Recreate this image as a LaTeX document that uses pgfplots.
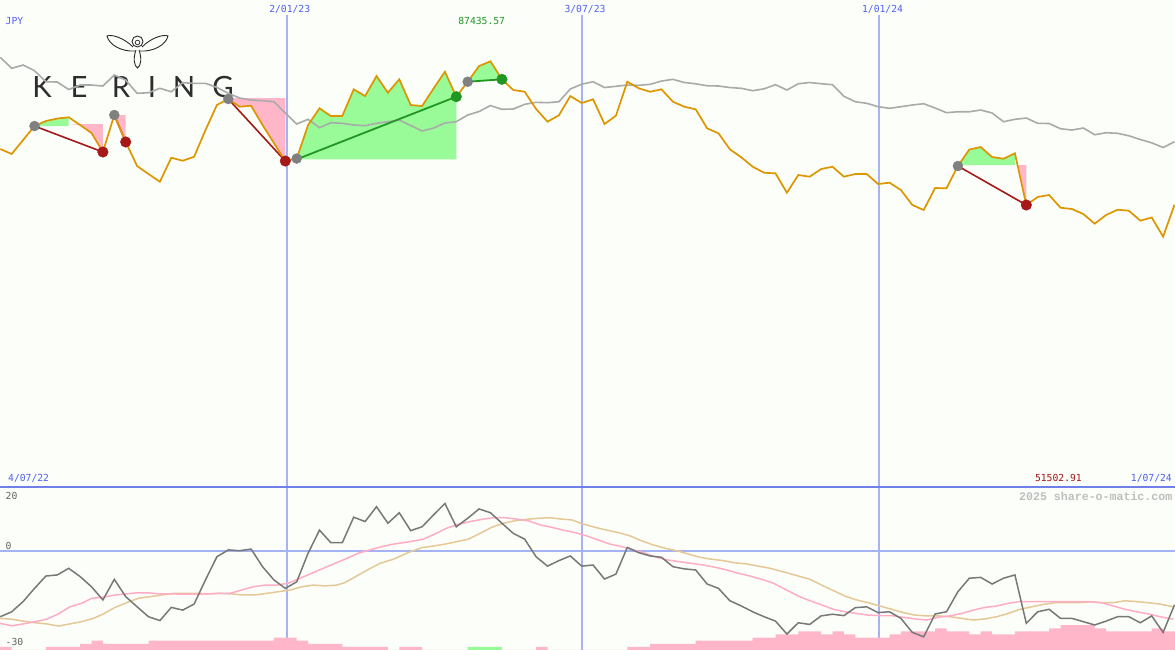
\documentclass[border=0pt]{standalone}
\usepackage{fontspec}
\setmainfont{DejaVu Sans}
\newfontfamily\lblfont{DejaVu Sans Mono}
\newfontfamily\wmfont{Liberation Mono}
\newfontfamily\logofont{Lato}
\usepackage{pgfplots}
\pgfplotsset{compat=1.18}
\definecolor{bgc}{RGB}{252,254,250}
\definecolor{orangeline}{RGB}{221,150,0}
\definecolor{grayline}{RGB}{170,170,170}
\definecolor{osc}{RGB}{120,120,120}
\definecolor{oscpink}{RGB}{255,172,198}
\definecolor{osctan}{RGB}{228,200,150}
\definecolor{pinkfill}{RGB}{255,182,200}
\definecolor{greenfill}{RGB}{152,251,152}
\definecolor{redline}{RGB}{165,25,25}
\definecolor{greenline}{RGB}{34,150,34}
\definecolor{graydot}{RGB}{128,128,128}
\definecolor{vline}{RGB}{165,178,244}
\definecolor{sepline}{RGB}{112,128,232}
\definecolor{bluetxt}{RGB}{80,95,240}
\definecolor{greentxt}{RGB}{34,150,34}
\definecolor{redtxt}{RGB}{165,20,20}
\definecolor{graytxt}{RGB}{100,100,100}
\definecolor{wmtxt}{RGB}{190,190,190}
\definecolor{logoc}{RGB}{45,45,45}
\begin{document}
\begin{tikzpicture}[x=1pt,y=1pt,
  lbl/.style={font=\lblfont\fontsize{9.7}{10}\selectfont, inner sep=0pt}]
\useasboundingbox (0,0) rectangle (1175,650);
\fill[bgc] (0,0) rectangle (1175,650);
% ---------- background decoration in pixel coordinates ----------
\begin{scope}[shift={(0,650)},yscale=-1]
  \draw[logoc, line width=0.9pt] (137.5,41.5) circle (5.5);
  \draw[logoc, line width=0.7pt] (137.5,42.5) circle (2.3);
  \draw[logoc, line width=0.9pt] (133,47) .. controls (124,38) and (112,34) .. (107,36) .. controls (109,45) and (122,52) .. (135,51);
  \draw[logoc, line width=0.9pt] (142,47) .. controls (151,38) and (163,34) .. (168,36) .. controls (166,45) and (153,52) .. (140,51);
  \draw[logoc, line width=0.9pt] (136,50) .. controls (133,58) and (134,66) .. (137.5,68) .. controls (141,66) and (142,58) .. (139,50);
  \foreach \l/\x in {K/42,E/79,R/121,I/152,N/184,G/223}
    \node[font=\logofont\fontsize{29.3}{30}\selectfont, text=logoc, inner sep=0pt] at (\x,87.5) {\l};
  \draw[vline, line width=1.5pt] (287,15) -- (287,650);
  \draw[vline, line width=1.5pt] (582,15) -- (582,650);
  \draw[vline, line width=1.5pt] (879,15) -- (879,650);
  \draw[sepline, line width=2pt] (0,486.8) -- (1175,486.8);
  \draw[vline, line width=2pt] (0,551.5) -- (1175,551.5);
\end{scope}
% ---------- price panel (thousand JPY) ----------
\begin{axis}[at={(0pt,162pt)}, anchor=south west, width=1175pt, height=488pt,
  scale only axis, xmin=0, xmax=1175, ymin=0, ymax=100, hide axis]
% fills
\addplot[fill=greenfill, draw=none] coordinates {(34.5,74.17) (45.9,75.20) (57.3,75.71) (68.7,75.96) (68.7,74.17) (34.5,74.17)};
\addplot[fill=pinkfill, draw=none] coordinates {(68.7,74.58) (102.9,74.58) (102.9,68.85) (91.5,72.74) (80.1,74.38) (68.7,74.58)};
\addplot[fill=pinkfill, draw=none] coordinates {(114.3,76.43) (125.7,76.43) (125.7,70.90) (114.3,76.43)};
\addplot[fill=pinkfill, draw=none] coordinates {(228.3,79.91) (285.3,79.91) (285.3,67.00) (273.9,70.69) (262.5,74.38) (251.1,78.33) (239.7,78.13) (228.3,79.71) (228.3,79.91)};
\addplot[fill=greenfill, draw=none] coordinates {(296.7,67.35) (308.1,74.38) (319.5,77.80) (330.9,76.22) (342.3,76.22) (353.7,81.69) (365.1,80.32) (376.5,84.42) (387.9,81.00) (399.3,83.74) (410.7,78.48) (422.1,78.27) (433.5,81.84) (444.9,85.30) (456.3,80.18) (456.3,67.35) (296.7,67.35)};
\addplot[fill=greenfill, draw=none] coordinates {(467.7,83.25) (479.1,86.47) (490.5,87.43557) (501.9,83.74) (467.7,83.25)};
\addplot[fill=greenfill, draw=none] coordinates {(957.9,66.18) (969.3,69.36) (980.7,69.87) (992.1,67.82) (1003.5,67.47) (1014.9,68.58) (1014.9,66.18) (957.9,66.18)};
\addplot[fill=pinkfill, draw=none] coordinates {(1017.5,66.18) (1026.3,66.18) (1026.3,57.99) (1017.5,66.18)};
% relative line
\addplot[grayline, line width=1.6pt] coordinates {(0.3,88.25) (11.7,86.00) (23.1,86.67) (34.5,85.51) (45.9,83.25) (57.3,83.19) (68.7,81.65) (80.1,82.57) (91.5,82.57) (102.9,82.37) (114.3,84.62) (125.7,83.60) (137.1,80.87) (148.5,81.00) (159.9,81.90) (171.3,81.20) (182.7,83.05) (194.1,82.92) (205.5,82.92) (216.9,82.10) (228.3,80.87) (239.7,79.91) (251.1,79.50) (262.5,79.36) (273.9,79.15) (285.3,76.84) (296.7,74.58) (308.1,75.55) (319.5,73.83) (330.9,74.85) (342.3,74.73) (353.7,74.38) (365.1,74.24) (376.5,74.73) (387.9,75.06) (399.3,75.40) (410.7,74.28) (422.1,73.15) (433.5,73.76) (444.9,74.79) (456.3,75.06) (467.7,76.43) (479.1,77.15) (490.5,78.37) (501.9,77.60) (513.3,77.66) (524.7,78.62) (536.1,79.03) (547.5,78.95) (558.9,79.15) (570.3,81.76) (581.7,82.74) (593.1,83.25) (604.5,82.06) (615.9,82.31) (627.3,82.57) (638.7,82.51) (650.1,82.72) (661.5,83.39) (672.9,83.74) (684.3,83.09) (695.7,82.82) (707.1,82.43) (718.5,82.37) (729.9,82.06) (741.3,81.90) (752.7,81.41) (764.1,81.80) (775.5,82.64) (786.9,81.55) (798.3,82.84) (809.7,83.09) (821.1,82.84) (832.5,82.64) (843.9,80.26) (855.3,79.15) (866.7,78.83) (878.1,78.13) (889.5,77.80) (900.9,78.13) (912.3,78.48) (923.7,78.74) (935.1,77.86) (946.5,76.90) (957.9,77.10) (969.3,77.10) (980.7,77.45) (992.1,76.84) (1003.5,75.06) (1014.9,75.55) (1026.3,75.81) (1037.7,74.73) (1049.1,74.69) (1060.5,73.62) (1071.9,73.35) (1083.3,73.76) (1094.7,72.39) (1106.1,72.80) (1117.5,72.68) (1128.9,72.17) (1140.3,71.41) (1151.7,70.73) (1163.1,69.77) (1174.5,70.96)};
% signal lines
\addplot[redline, line width=1.6pt] coordinates {(34.5,74.17) (102.9,68.85)};
\addplot[redline, line width=1.6pt] coordinates {(114.3,76.43) (125.7,70.90)};
\addplot[redline, line width=1.6pt] coordinates {(228.3,79.71) (285.3,67.00)};
\addplot[redline, line width=1.6pt] coordinates {(957.9,65.98) (1026.3,57.99)};
\addplot[greenline, line width=1.8pt] coordinates {(296.7,67.35) (456.3,80.18)};
\addplot[greenline, line width=1.8pt] coordinates {(467.7,83.25) (501.9,83.74)};
% price line
\addplot[orangeline, line width=1.7pt] coordinates {(0.3,69.46) (11.7,68.44) (23.1,71.31) (34.5,74.17) (45.9,75.20) (57.3,75.71) (68.7,75.96) (80.1,74.38) (91.5,72.74) (102.9,68.85) (114.3,76.43) (125.7,70.90) (137.1,65.98) (148.5,64.34) (159.9,62.76) (171.3,67.68) (182.7,67.06) (194.1,67.88) (205.5,73.35) (216.9,78.48) (228.3,79.71) (239.7,78.13) (251.1,78.33) (262.5,74.38) (273.9,70.69) (285.3,67.00) (296.7,67.51) (308.1,74.38) (319.5,77.80) (330.9,76.22) (342.3,76.22) (353.7,81.69) (365.1,80.32) (376.5,84.42) (387.9,81.00) (399.3,83.74) (410.7,78.48) (422.1,78.27) (433.5,81.84) (444.9,85.30) (456.3,80.18) (467.7,83.25) (479.1,86.47) (490.5,87.43557) (501.9,83.74) (513.3,81.55) (524.7,81.20) (536.1,77.66) (547.5,75.06) (558.9,76.37) (570.3,80.32) (581.7,78.89) (593.1,79.64) (604.5,74.58) (615.9,76.28) (627.3,83.25) (638.7,81.90) (650.1,81.20) (661.5,81.69) (672.9,79.15) (684.3,78.13) (695.7,77.60) (707.1,73.70) (718.5,72.68) (729.9,69.40) (741.3,67.76) (752.7,65.83) (764.1,64.60) (775.5,64.48) (786.9,60.51) (798.3,64.13) (809.7,63.79) (821.1,65.36) (832.5,65.83) (843.9,63.79) (855.3,64.34) (866.7,64.34) (878.1,62.29) (889.5,62.56) (900.9,61.06) (912.3,57.99) (923.7,56.96) (935.1,61.47) (946.5,61.41) (957.9,65.98) (969.3,69.36) (980.7,69.87) (992.1,67.82) (1003.5,67.47) (1014.9,68.58) (1026.3,57.99) (1037.7,59.63) (1049.1,60.04) (1060.5,57.43) (1071.9,57.17) (1083.3,56.14) (1094.7,54.16) (1106.1,55.94) (1117.5,57.02) (1128.9,56.82) (1140.3,54.77) (1151.7,55.43) (1163.1,51.50291) (1174.5,58.05)};
% dots
\addplot[only marks, mark=*, mark size=5pt, mark options={draw=graydot, fill=graydot}] coordinates {(34.5,74.17) (114.3,76.43) (228.3,79.71) (296.7,67.51) (467.7,83.25) (957.9,65.98)};
\addplot[only marks, mark=*, mark size=5.3pt, mark options={draw=redline, fill=redline}] coordinates {(102.9,68.85) (125.7,70.90) (285.3,67.00) (1026.3,57.99)};
\addplot[only marks, mark=*, mark size=5.3pt, mark options={draw=greenline, fill=greenline}] coordinates {(456.3,80.18) (501.9,83.74)};
\end{axis}
% ---------- bars ----------
\begin{axis}[at={(0pt,0pt)}, anchor=south west, width=1175pt, height=162pt,
  scale only axis, xmin=0, xmax=1175, ymin=0, ymax=52.26, hide axis]
\addplot[const plot, fill=pinkfill, draw=none] coordinates {(0,1) (11.7,0) (23.1,0) (34.5,0) (45.9,1) (57.3,1) (68.7,1) (80.1,2) (91.5,3) (102.9,2) (114.3,2) (125.7,2) (137.1,2) (148.5,3) (159.9,3) (171.3,3) (182.7,3) (194.1,3) (205.5,3) (216.9,3) (228.3,3) (239.7,3) (251.1,3) (262.5,3) (273.9,4) (285.3,4) (296.7,3) (308.1,2) (319.5,2) (330.9,2) (342.3,1) (353.7,1) (365.1,1) (376.5,1) (387.9,0) (399.3,1) (410.7,1) (422.1,0) (433.5,0) (444.9,0) (456.3,0) (467.7,0) (479.1,0) (490.5,0) (501.9,0) (513.3,0) (524.7,0) (536.1,1) (547.5,0) (558.9,0) (570.3,0) (581.7,0) (593.1,0) (604.5,0) (615.9,0) (627.3,1) (638.7,1) (650.1,2) (661.5,2) (672.9,2) (684.3,2) (695.7,3) (707.1,3) (718.5,3) (729.9,3) (741.3,3) (752.7,4) (764.1,4) (775.5,5) (786.9,5) (798.3,6) (809.7,6) (821.1,5) (832.5,6) (843.9,5) (855.3,4) (866.7,4) (878.1,4) (889.5,5) (900.9,6) (912.3,6) (923.7,6) (935.1,7) (946.5,6) (957.9,6) (969.3,5) (980.7,6) (992.1,5) (1003.5,5) (1014.9,6) (1026.3,6) (1037.7,6) (1049.1,7) (1060.5,8) (1071.9,8) (1083.3,8) (1094.7,7) (1106.1,6) (1117.5,6) (1128.9,6) (1140.3,6) (1151.7,7) (1163.1,6) (1175,6)} \closedcycle;
\addplot[const plot, fill=greenfill, draw=none] coordinates {(467.7,1) (479.1,1) (490.5,1) (501.9,1)} \closedcycle;
\end{axis}
% ---------- oscillator panel ----------
\begin{axis}[at={(0pt,0pt)}, anchor=south west, width=1175pt, height=162pt,
  scale only axis, xmin=0, xmax=1175, ymin=-36, ymax=22.909, hide axis]
\addplot[osctan, line width=1.5pt] coordinates {(0,-24.5) (11.7,-24.8) (23.3,-25.5) (35,-26.1) (46.7,-26.5) (58.3,-27.3) (70,-26.5) (81.7,-25.7) (93.3,-24.5) (103.3,-22.9) (115,-20.5) (126.7,-18.8) (138.3,-17.2) (150,-16.6) (161.7,-16.0) (173.3,-15.4) (185,-15.4) (196.7,-15.4) (208.3,-15.6) (220,-15.4) (231.7,-15.6) (243.3,-16.0) (255,-16.0) (266.7,-15.4) (278.3,-14.8) (290,-14.2) (301.7,-13.0) (313.3,-12.4) (325,-12.7) (336.7,-12.4) (345,-11.5) (356.7,-9.1) (368.3,-6.7) (380,-4.5) (393.3,-3.0) (410,-0.3) (421.7,1.2) (433.3,1.8) (445,2.5) (456.7,3.4) (468.3,4.3) (480,6.4) (491.7,8.6) (503.3,10.1) (515,11.0) (526.7,11.5) (538.3,11.9) (550,12.1) (561.7,11.6) (571.7,11.3) (583.3,9.8) (595,8.6) (606.7,7.6) (618.3,6.7) (630,5.5) (641.7,3.7) (653.3,2.2) (665,1.0) (676.7,0.1) (688.3,-1.1) (700,-2.3) (711.7,-3.0) (723.3,-3.5) (735,-4.3) (746.7,-4.7) (758.3,-5.5) (770,-6.3) (786.7,-7.9) (798.3,-9.1) (810,-10.3) (821.7,-12.4) (833.3,-14.4) (845,-16.4) (856.7,-17.8) (868.3,-18.8) (880,-20.0) (891.7,-21.2) (903.3,-22.4) (915,-23.3) (926.7,-23.6) (938.3,-23.6) (950,-23.9) (961.7,-24.5) (973.3,-25.1) (985,-24.7) (996.7,-23.9) (1008.3,-22.7) (1020,-21.2) (1031.7,-20.3) (1043.3,-19.4) (1055,-18.8) (1066.7,-18.8) (1078.3,-18.8) (1090,-18.5) (1101.7,-18.8) (1113.3,-18.8) (1125,-18.1) (1136.7,-18.4) (1148.3,-18.8) (1160,-19.3) (1173.3,-20.3)};
\addplot[oscpink, line width=1.5pt] coordinates {(0,-26.3) (11.7,-27.2) (23.3,-26.5) (35,-25.7) (46.7,-24.8) (58.3,-22.9) (70,-20.3) (81.7,-19.0) (91.7,-17.2) (103.3,-16.8) (115,-16.0) (126.7,-15.6) (136.7,-15.2) (148.3,-15.2) (160,-15.6) (171.7,-15.6) (183.3,-15.7) (195,-15.7) (206.7,-15.6) (218.3,-15.4) (230,-15.4) (241.7,-14.2) (253.3,-13.0) (265,-12.4) (276.7,-12.4) (288.3,-11.7) (300,-9.9) (311.7,-8.1) (323.3,-6.3) (335,-4.5) (346.7,-2.7) (358.3,-0.8) (370,0.4) (381.7,1.6) (393.3,2.5) (410,3.4) (423.3,4.3) (435,6.2) (446.7,8.3) (458.3,9.7) (470,10.7) (481.7,11.5) (493.3,12.1) (505,12.1) (516.7,11.6) (528.3,11.0) (540,9.5) (551.7,8.6) (563.3,7.6) (575,6.7) (586.7,5.5) (598.3,4.0) (610,2.5) (621.7,1.6) (633.3,0.4) (645,-0.8) (656.7,-2.3) (668.3,-3.3) (680,-3.9) (691.7,-4.5) (703.3,-5.1) (715,-5.9) (726.7,-6.9) (738.3,-8.1) (750,-9.1) (761.7,-10.3) (773.3,-11.7) (786.7,-14.2) (798.3,-16.4) (810,-18.1) (821.7,-19.6) (833.3,-21.2) (845,-22.1) (856.7,-22.7) (868.3,-23.3) (880,-23.5) (891.7,-23.5) (903.3,-24.1) (915,-24.7) (926.7,-25.1) (938.3,-24.1) (950,-23.6) (961.7,-22.7) (973.3,-21.5) (985,-20.5) (996.7,-20.0) (1008.3,-19.0) (1020,-18.4) (1031.7,-18.4) (1043.3,-18.4) (1055,-18.4) (1066.7,-18.4) (1078.3,-18.4) (1090,-18.4) (1101.7,-18.8) (1113.3,-20.0) (1125,-21.2) (1136.7,-22.1) (1148.3,-22.9) (1160,-23.9) (1173.3,-24.8)};
\addplot[osc, line width=1.5pt] coordinates {(0.3,-23.9) (11.7,-22.1) (23.1,-18.4) (34.5,-13.6) (45.9,-9.1) (57.3,-8.7) (68.7,-6.3) (80.1,-9.3) (91.5,-13.0) (102.9,-17.8) (114.3,-10.3) (125.7,-16.6) (137.1,-20.3) (148.5,-23.9) (159.9,-25.3) (171.3,-20.5) (182.7,-21.5) (194.1,-19.3) (205.5,-10.5) (216.9,-2.1) (228.3,0.4) (239.7,0.1) (251.1,0.7) (262.5,-5.7) (273.9,-10.5) (285.3,-13.6) (296.7,-11.2) (308.1,-0.8) (319.5,7.6) (330.9,3.0) (342.3,3.0) (353.7,12.3) (365.1,10.7) (376.5,16.1) (387.9,10.1) (399.3,13.9) (410.7,7.4) (422.1,8.8) (433.5,13.1) (444.9,17.3) (456.3,8.8) (467.7,11.9) (479.1,15.3) (490.5,13.9) (501.9,10.1) (513.3,6.4) (524.7,4.3) (536.1,-2.1) (547.5,-5.5) (558.9,-3.5) (570.3,-1.8) (581.7,-5.5) (593.1,-5.1) (604.5,-10.2) (615.9,-8.4) (627.3,1.3) (638.7,-0.6) (650.1,-1.8) (661.5,-2.3) (672.9,-5.7) (684.3,-6.5) (695.7,-6.9) (707.1,-12.0) (718.5,-13.6) (729.9,-18.1) (741.3,-20.0) (752.7,-22.1) (764.1,-23.9) (775.5,-25.5) (786.9,-30.2) (798.3,-26.1) (809.7,-26.7) (821.1,-23.6) (832.5,-23.0) (843.9,-23.5) (855.3,-20.6) (866.7,-20.3) (878.1,-22.4) (889.5,-22.1) (900.9,-24.5) (912.3,-29.6) (923.7,-31.2) (935.1,-22.9) (946.5,-22.1) (957.9,-14.8) (969.3,-9.9) (980.7,-9.6) (992.1,-12.0) (1003.5,-9.9) (1014.9,-8.7) (1026.3,-26.3) (1037.7,-22.1) (1049.1,-21.2) (1060.5,-24.5) (1071.9,-24.5) (1083.3,-25.7) (1094.7,-26.9) (1106.1,-25.5) (1117.5,-23.9) (1128.9,-23.9) (1140.3,-26.1) (1151.7,-23.6) (1163.1,-29.6) (1174.5,-19.6)};
\end{axis}
% ---------- texts in pixel coordinates ----------
\begin{scope}[shift={(0,650)},yscale=-1]
  \node[lbl, anchor=west, text=bluetxt] at (5.5,21) {JPY};
  \node[lbl, text=bluetxt] at (289.7,9) {2/01/23};
  \node[lbl, text=bluetxt] at (585,9) {3/07/23};
  \node[lbl, text=bluetxt] at (882.5,9) {1/01/24};
  \node[lbl, text=greentxt] at (481.7,21) {87435.57};
  \node[lbl, anchor=west, text=bluetxt] at (8,478) {4/07/22};
  \node[lbl, text=redtxt] at (1058.4,478) {51502.91};
  \node[lbl, anchor=east, text=bluetxt] at (1172,478) {1/07/24};
  \node[font=\wmfont\bfseries\fontsize{11.6}{12}\selectfont, inner sep=0pt, anchor=east, text=wmtxt] at (1172.5,496) {2025 share-o-matic.com};
  \node[lbl, anchor=west, text=graytxt] at (5.5,496) {20};
  \node[lbl, anchor=west, text=graytxt] at (5.5,546) {0};
  \node[lbl, anchor=west, text=graytxt] at (5.5,642) {-30};
\end{scope}
\end{tikzpicture}
\end{document}
